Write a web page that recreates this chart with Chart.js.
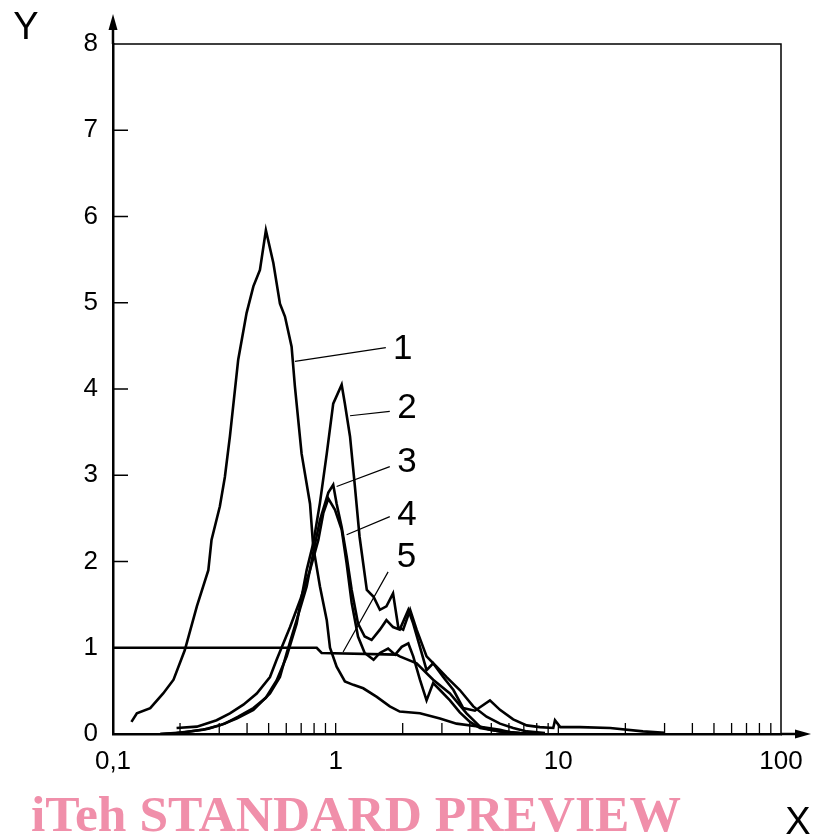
<!DOCTYPE html>
<html>
<head>
<meta charset="utf-8">
<script src="https://cdn.jsdelivr.net/npm/chart.js@4/dist/chart.umd.min.js"></script>
<style>
  html, body { margin: 0; padding: 0; background: #fff; }
</style>
</head>
<body>
<canvas id="myChart" width="813" height="836"></canvas>
<script>
// curve values (x on log axis)
const curve1X = [0.121, 0.128, 0.147, 0.168, 0.187, 0.210, 0.238, 0.268, 0.277, 0.302, 0.318, 0.335, 0.365, 0.398, 0.427, 0.457, 0.486, 0.525, 0.562, 0.592, 0.634, 0.656, 0.703, 0.767, 0.793, 0.850, 0.912, 0.943, 1.01, 1.10, 1.20, 1.33, 1.53, 1.75, 1.94, 2.39, 2.94, 3.49, 4.45, 5.47, 6.06];
const curve1Y = [0.14, 0.24, 0.30, 0.47, 0.63, 0.97, 1.48, 1.90, 2.25, 2.64, 2.98, 3.45, 4.34, 4.88, 5.19, 5.38, 5.84, 5.46, 4.99, 4.84, 4.49, 4.03, 3.25, 2.67, 2.17, 1.71, 1.32, 1.00, 0.78, 0.61, 0.57, 0.53, 0.43, 0.32, 0.26, 0.24, 0.18, 0.12, 0.085, 0.05, 0.02];

const curve2X = [0.163, 0.210, 0.268, 0.318, 0.365, 0.427, 0.486, 0.543, 0.603, 0.668, 0.741, 0.793, 0.850, 0.912, 0.975, 1.064, 1.10, 1.16, 1.22, 1.28, 1.38, 1.48, 1.58, 1.69, 1.81, 1.91, 2.01, 2.16, 2.31, 2.56, 2.84, 3.15, 3.61, 4.15, 4.76, 5.47, 6.27, 7.21, 8.71];
const curve2Y = [0.0, 0.02, 0.06, 0.12, 0.20, 0.30, 0.42, 0.62, 0.90, 1.28, 1.90, 2.21, 2.68, 3.25, 3.83, 4.05, 3.83, 3.45, 2.87, 2.29, 1.67, 1.59, 1.44, 1.48, 1.63, 1.24, 1.21, 1.44, 1.21, 0.90, 0.78, 0.66, 0.51, 0.32, 0.20, 0.12, 0.07, 0.03, 0.01];

const curve3X = [0.163, 0.193, 0.254, 0.302, 0.359, 0.427, 0.507, 0.562, 0.603, 0.668, 0.741, 0.793, 0.850, 0.927, 0.975, 1.01, 1.064, 1.12, 1.18, 1.26, 1.35, 1.45, 1.58, 1.69, 1.81, 1.94, 2.12, 2.23, 2.39, 2.56, 2.74, 3.04, 3.38, 3.74, 4.22, 4.93, 5.47, 6.27, 7.21, 8.26, 9.49, 9.66, 10.2, 12.5, 17.1, 24.0, 30.1];
const curve3Y = [0.0, 0.01, 0.05, 0.10, 0.18, 0.28, 0.47, 0.66, 0.94, 1.32, 1.71, 2.10, 2.48, 2.80, 2.89, 2.67, 2.40, 2.06, 1.67, 1.28, 1.13, 1.09, 1.21, 1.32, 1.24, 1.21, 1.44, 1.28, 1.01, 0.74, 0.82, 0.66, 0.51, 0.30, 0.27, 0.39, 0.28, 0.17, 0.10, 0.08, 0.07, 0.16, 0.08, 0.08, 0.07, 0.03, 0.015];

const curve4X = [0.193, 0.238, 0.292, 0.335, 0.385, 0.442, 0.507, 0.543, 0.624, 0.692, 0.767, 0.836, 0.880, 0.927, 0.993, 1.064, 1.12, 1.18, 1.26, 1.35, 1.48, 1.58, 1.72, 1.85, 1.98, 2.12, 2.23, 2.39, 2.56, 2.74, 2.94, 3.26, 3.61, 4.01, 4.45, 5.47, 6.72, 8.26];
const curve4Y = [0.07, 0.085, 0.16, 0.24, 0.34, 0.47, 0.66, 0.86, 1.24, 1.55, 1.90, 2.25, 2.56, 2.73, 2.60, 2.37, 1.98, 1.52, 1.13, 0.94, 0.86, 0.94, 0.99, 0.92, 1.01, 1.05, 0.90, 0.63, 0.39, 0.59, 0.51, 0.39, 0.25, 0.14, 0.07, 0.03, 0.01, 0.0];

const curve5X = [0.1, 0.822, 0.865, 1.88, 1.94, 2.31, 2.74, 3.26, 3.87, 4.45, 4.93, 5.47, 6.72];
const curve5Y = [1.0, 1.0, 0.94, 0.92, 0.90, 0.82, 0.63, 0.47, 0.24, 0.085, 0.05, 0.03, 0.01];

// curve numbers and their leader lines (data coordinates)
const curveNames = ["1", "2", "3", "4", "5"];
const nameX = [2.00, 2.09, 2.09, 2.09, 2.08];
const nameY = [4.46, 3.78, 3.15, 2.53, 2.05];
const leadFromX = [0.656, 1.16, 1.01, 1.12, 1.08];
const leadFromY = [4.32, 3.69, 2.87, 2.31, 0.95];
const leadToX = [1.68, 1.75, 1.75, 1.75, 1.72];
const leadToY = [4.48, 3.74, 3.10, 2.52, 1.88];

// axes
const xLabelValues = [0.1, 1, 10, 100];
const xLabelTexts = ["0,1", "1", "10", "100"];
const xMinorTicks = [0.2, 0.3, 0.4, 0.5, 0.6, 0.7, 0.8, 0.9, 1, 2, 3, 4, 5, 6, 7, 8, 9, 10, 20, 30, 40, 50, 60, 70, 80, 90];
const yTickValues = [1, 2, 3, 4, 5, 6, 7];

function toPoints(xs, ys) {
  return xs.map((x, i) => ({ x: x, y: ys[i] }));
}

const allX = [curve1X, curve2X, curve3X, curve4X, curve5X];
const allY = [curve1Y, curve2Y, curve3Y, curve4Y, curve5Y];

const data = {
  datasets: allX.map((xs, i) => ({
    label: curveNames[i],
    data: toPoints(xs, allY[i]),
    showLine: true,
    borderColor: "#000",
    borderWidth: 2.6,
    pointRadius: 0,
    tension: 0,
    fill: false,
  })),
};

const FONT = "'Liberation Sans', Arial, sans-serif";

// extra drawing: frame, inner ticks, arrows, curve numbers, watermark
const decorations = {
  id: "decorations",
  afterDraw(chart) {
    const ctx = chart.ctx;
    const a = chart.chartArea;
    const xs = chart.scales.x;
    const ys = chart.scales.y;
    ctx.save();
    ctx.strokeStyle = "#000";
    ctx.fillStyle = "#000";

    // top and right frame
    ctx.lineWidth = 1.5;
    ctx.beginPath();
    ctx.moveTo(a.left, a.top);
    ctx.lineTo(a.right, a.top);
    ctx.lineTo(a.right, a.bottom);
    ctx.stroke();

    // inner ticks
    ctx.lineWidth = 1.3;
    ctx.beginPath();
    xMinorTicks.forEach((v) => {
      const px = xs.getPixelForValue(v);
      ctx.moveTo(px, a.bottom);
      ctx.lineTo(px, a.bottom - 11);
    });
    yTickValues.forEach((v) => {
      const py = ys.getPixelForValue(v);
      ctx.moveTo(a.left, py);
      ctx.lineTo(a.left + 15, py);
    });
    ctx.stroke();

    // axis arrows
    ctx.lineWidth = 2.5;
    ctx.beginPath();
    ctx.moveTo(a.left, a.top);
    ctx.lineTo(a.left, 26);
    ctx.moveTo(a.right, a.bottom);
    ctx.lineTo(798, a.bottom);
    ctx.stroke();
    ctx.beginPath();
    ctx.moveTo(a.left, 14);
    ctx.lineTo(a.left - 4.5, 30);
    ctx.lineTo(a.left + 4.5, 30);
    ctx.closePath();
    ctx.fill();
    ctx.beginPath();
    ctx.moveTo(811, a.bottom);
    ctx.lineTo(795, a.bottom - 4.5);
    ctx.lineTo(795, a.bottom + 4.5);
    ctx.closePath();
    ctx.fill();

    // axis names
    ctx.font = "38px " + FONT;
    ctx.textAlign = "center";
    ctx.textBaseline = "middle";
    ctx.fillText("Y", 26, 29);
    ctx.fillText("X", 798, 824);

    // leader lines and curve numbers
    ctx.lineWidth = 1.2;
    ctx.beginPath();
    curveNames.forEach((n, i) => {
      ctx.moveTo(xs.getPixelForValue(leadFromX[i]), ys.getPixelForValue(leadFromY[i]));
      ctx.lineTo(xs.getPixelForValue(leadToX[i]), ys.getPixelForValue(leadToY[i]));
    });
    ctx.stroke();
    ctx.font = "35px " + FONT;
    curveNames.forEach((n, i) => {
      ctx.fillText(n, xs.getPixelForValue(nameX[i]), ys.getPixelForValue(nameY[i]));
    });

    // watermark
    ctx.font = "bold 50px 'Liberation Serif', 'Times New Roman', serif";
    ctx.fillStyle = "#F08FAA";
    ctx.textAlign = "left";
    ctx.textBaseline = "alphabetic";
    const txt = "iTeh STANDARD PREVIEW";
    const w = ctx.measureText(txt).width;
    ctx.translate(31, 831);
    ctx.scale(650 / w, 1);
    ctx.fillText(txt, 0, 0);
    ctx.restore();
  },
};

const options = {
  responsive: false,
  animation: false,
  devicePixelRatio: 1,
  layout: { padding: { left: 0, right: 32, top: 44, bottom: 0 } },
  plugins: { legend: { display: false }, tooltip: { enabled: false } },
  scales: {
    x: {
      type: "logarithmic",
      min: 0.1,
      max: 100,
      afterFit: (s) => { s.height = 102; s.paddingRight = 0; s.paddingLeft = 0; },
      grid: { display: false, drawTicks: false },
      border: { display: true, color: "#000", width: 2.5 },
      ticks: {
        autoSkip: false,
        maxRotation: 0,
        padding: 12,
        color: "#000",
        font: { family: FONT, size: 26 },
        callback: (v) => {
          const i = xLabelValues.findIndex((t) => Math.abs(t - v) / t < 1e-6);
          return i >= 0 ? xLabelTexts[i] : "";
        },
      },
    },
    y: {
      type: "linear",
      min: 0,
      max: 8,
      afterFit: (s) => { s.width = 113; },
      grid: { display: false, drawTicks: false },
      border: { display: true, color: "#000", width: 2.5 },
      ticks: {
        stepSize: 1,
        padding: 15,
        color: "#000",
        font: { family: FONT, size: 26 },
      },
    },
  },
};

const ctx = document.getElementById("myChart").getContext("2d");
let myChart = new Chart(ctx, {
  type: "scatter",
  data,
  options,
  plugins: [decorations],
});
</script>
</body>
</html>
